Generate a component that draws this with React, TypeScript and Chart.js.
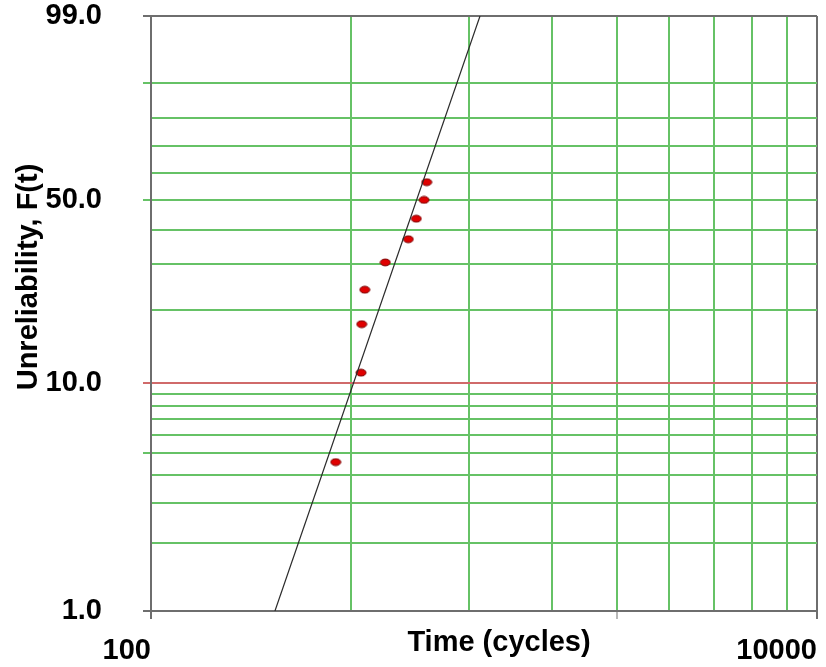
import React, { useEffect, useRef } from "react";
import { Chart, registerables } from "chart.js";

Chart.register(...registerables);

// ---- Data ----
const failureTimes = [189.4, 206.7, 207.2, 209.4, 224.8, 243.4, 250.2, 257.0, 259.4];
const unreliabilityPct = [4.55, 11.04, 17.53, 24.03, 30.52, 37.01, 43.51, 50.0, 56.49];

const fitLineTimes = [153.5, 311.9];
const fitLinePct = [1, 99];

const xGridValues = [100, 200, 300, 400, 500, 600, 700, 800, 900, 1000];
const xTickLabels: Record<number, string> = { 100: "100", 1000: "10000" };

const yGridPercents = [1, 2, 3, 4, 5, 6, 7, 8, 9, 10, 20, 30, 40, 50, 60, 70, 80, 90, 99];
const yLabelPercents = [1, 10, 50, 99];
const yStubPercents = [1, 5, 10, 50, 90, 99];

const xTitle = "Time (cycles)";
const yTitle = "Unreliability, F(t)";

// Weibull probability transform for the vertical axis
const weib = (p: number) => Math.log(-Math.log(1 - p / 100));
const pctFromY = (y: number) => 100 * (1 - Math.exp(-Math.exp(y)));
const near = (a: number, b: number) => Math.abs(a - b) < 1e-6;

const GREEN = "#66c266";
const RED = "#d06a6a";
const AXIS = "#6e6e6e";
const FONT = "Arial, 'Liberation Sans', sans-serif";

function makePointImage() {
  const c = document.createElement("canvas");
  c.width = 12;
  c.height = 9;
  const g = c.getContext("2d")!;
  g.beginPath();
  g.ellipse(6, 4.5, 5, 3.4, 0, 0, Math.PI * 2);
  g.fillStyle = "#e00000";
  g.fill();
  g.lineWidth = 1;
  g.strokeStyle = "#7a0000";
  g.stroke();
  return c;
}

const titlesPlugin = {
  id: "axisTitles",
  afterDraw(chart: any) {
    const { ctx } = chart;
    ctx.save();
    ctx.fillStyle = "#000";
    ctx.font = `bold 29px ${FONT}`;
    ctx.textAlign = "center";
    ctx.textBaseline = "middle";
    ctx.fillText(xTitle, 499, 643);
    ctx.translate(29, 277);
    ctx.rotate(-Math.PI / 2);
    ctx.fillText(yTitle, 0, 0);
    ctx.restore();
  },
};

export default function App() {
  const ref = useRef<HTMLCanvasElement>(null);

  useEffect(() => {
    document.body.style.margin = "0";
    const canvas = ref.current!;
    const pointImg = makePointImage();

    const chart = new Chart(canvas, {
      type: "scatter",
      data: {
        datasets: [
          {
            label: "Fit",
            data: fitLineTimes.map((t, i) => ({ x: t, y: weib(fitLinePct[i]) })),
            showLine: true,
            borderColor: "#2a2a2a",
            borderWidth: 1.2,
            pointRadius: 0,
          },
          {
            label: "Data",
            data: failureTimes.map((t, i) => ({ x: t, y: weib(unreliabilityPct[i]) })),
            pointStyle: pointImg as any,
            pointRadius: 5,
            showLine: false,
          },
        ],
      },
      options: {
        animation: false,
        responsive: false,
        layout: { padding: { top: 16, right: 9, left: 0, bottom: 0 } },
        plugins: { legend: { display: false }, tooltip: { enabled: false } },
        scales: {
          x: {
            type: "logarithmic",
            min: 100,
            max: 1000,
            afterBuildTicks: (s: any) => {
              s.ticks = xGridValues.map((v) => ({ value: v }));
            },
            afterFit: (s: any) => {
              s.height = 667 - 611;
              s.paddingLeft = 0;
              s.paddingRight = 0;
            },
            ticks: {
              autoSkip: false,
              maxRotation: 0,
              minRotation: 0,
              align: "end",
              padding: 15,
              color: "#000",
              font: { family: FONT, size: 29, weight: "bold" },
              callback: (v: any) => xTickLabels[Number(v)] ?? "",
            },
            grid: {
              lineWidth: 2,
              tickLength: 8,
              color: (c: any) => {
                const v = c.tick?.value;
                return v === 100 || v === 1000 ? AXIS : GREEN;
              },
              tickColor: (c: any) => {
                const v = c.tick?.value;
                if (v === 100 || v === 1000) return AXIS;
                if (v === 500) return "#b8b8b8";
                return "rgba(0,0,0,0)";
              },
            },
            border: { display: true, color: AXIS, width: 2 },
          },
          y: {
            type: "linear",
            min: weib(1),
            max: weib(99),
            afterBuildTicks: (s: any) => {
              s.ticks = yGridPercents.map((p) => ({ value: weib(p) }));
            },
            afterFit: (s: any) => {
              s.width = 151;
              s.paddingTop = 0;
              s.paddingBottom = 0;
            },
            ticks: {
              autoSkip: false,
              padding: 41,
              color: "#000",
              font: { family: FONT, size: 29, weight: "bold" },
              callback: (v: any) => {
                const p = Math.round(pctFromY(Number(v)));
                return yLabelPercents.includes(p) ? p.toFixed(1) : "";
              },
            },
            grid: {
              lineWidth: 2,
              tickLength: 8,
              color: (c: any) => {
                const v = c.tick?.value;
                if (v === undefined) return GREEN;
                if (near(v, weib(99)) || near(v, weib(1))) return AXIS;
                if (near(v, weib(10))) return RED;
                return GREEN;
              },
              tickColor: (c: any) => {
                const v = c.tick?.value;
                if (v === undefined) return "rgba(0,0,0,0)";
                const p = Math.round(pctFromY(v));
                if (!yStubPercents.includes(p)) return "rgba(0,0,0,0)";
                if (p === 1 || p === 99) return AXIS;
                if (p === 10) return RED;
                return GREEN;
              },
            },
            border: { display: true, color: AXIS, width: 2 },
          },
        },
      },
      plugins: [titlesPlugin],
    });

    return () => chart.destroy();
  }, []);

  return (
    <div style={{ position: "fixed", left: 0, top: 0, width: 826, height: 667, background: "#fff" }}>
      <canvas ref={ref} width={826} height={667} style={{ display: "block" }} />
    </div>
  );
}
